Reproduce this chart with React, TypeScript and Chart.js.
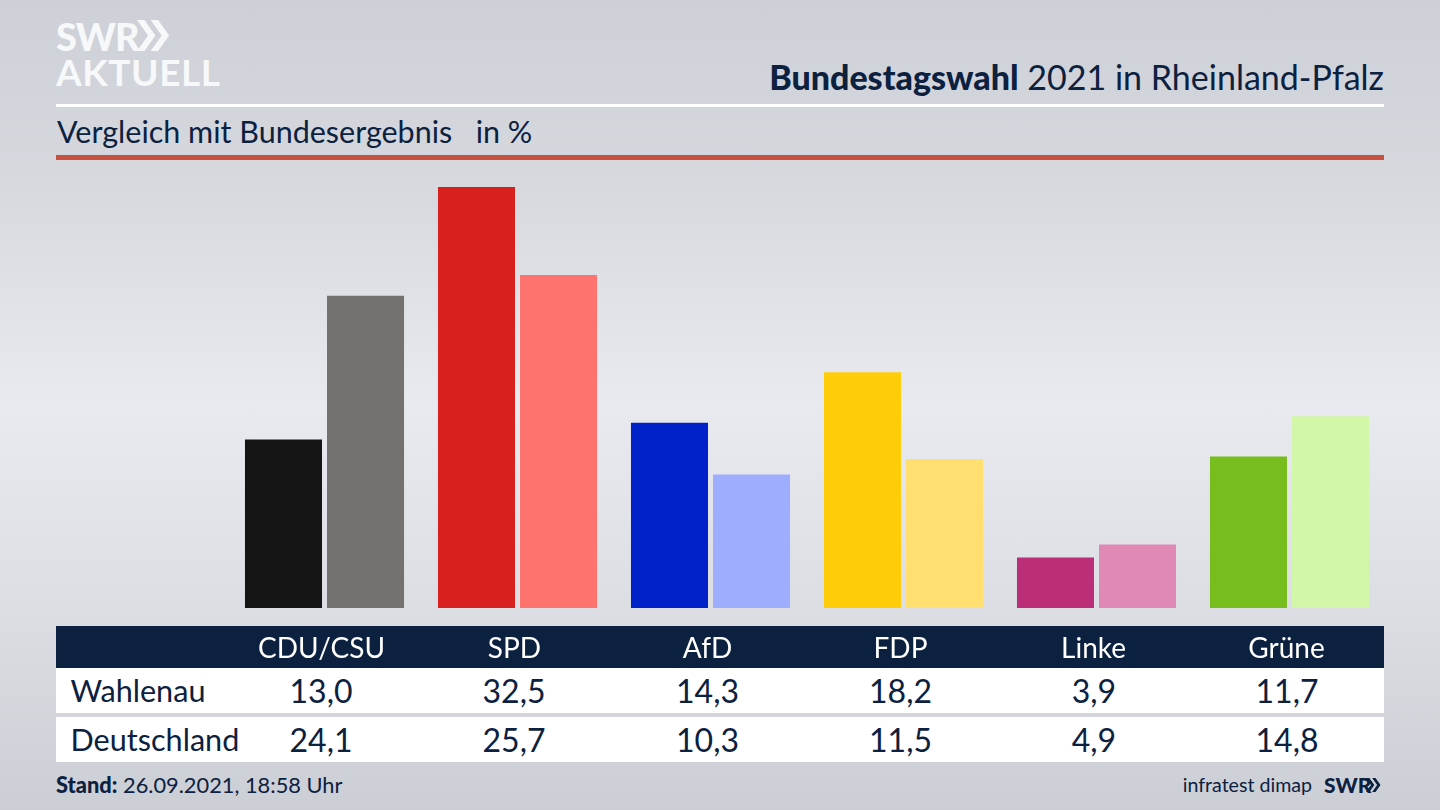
import React, { useEffect, useRef } from "react";
import { Chart, registerables } from "chart.js";

Chart.register(...registerables);

const parties = ["CDU/CSU", "SPD", "AfD", "FDP", "Linke", "Grüne"];
const wahlenau = [13.0, 32.5, 14.3, 18.2, 3.9, 11.7];
const deutschland = [24.1, 25.7, 10.3, 11.5, 4.9, 14.8];
const coloursWahlenau = ["#141414", "#d8201e", "#0022c8", "#ffcc0a", "#bc2f78", "#78bd1e"];
const coloursDeutschland = ["#74726f", "#ff736e", "#9fadff", "#ffdf70", "#e088b6", "#d2f7a8"];
const rowNames = ["Wahlenau", "Deutschland"];
const columnCentres = [321, 514, 707.5, 900.5, 1094, 1287];

const FONT = "Lato, 'Noto Sans', sans-serif";
const NAVY = "#0c2140";

const fmt = (v: number) => v.toFixed(1).replace(".", ",");

const abs = (left: number, top: number, width: number, height: number, extra: React.CSSProperties = {}): React.CSSProperties => ({
  position: "absolute", left, top, width, height, ...extra,
});

function Chevrons({ x, y, h, color }: { x: number; y: number; h: number; color: string }) {
  const w = h * 0.5;
  const t = h * 0.24;
  const pts = (o: number) => `${o},0 ${o + t},0 ${o + w + t * 0.4},${h / 2} ${o + t},${h} ${o},${h} ${o + w - t * 0.6},${h / 2}`;
  return (
    <svg style={{ position: "absolute", left: x, top: y }} width={h * 1.2} height={h}>
      <polygon points={pts(0)} fill={color} />
      <polygon points={pts(h * 0.44)} fill={color} />
    </svg>
  );
}

export default function App() {
  const ref = useRef<HTMLCanvasElement>(null);
  useEffect(() => {
    const chart = new Chart(ref.current!, {
      type: "bar",
      data: {
        labels: parties,
        datasets: [
          { label: rowNames[0], data: wahlenau, backgroundColor: coloursWahlenau },
          { label: rowNames[1], data: deutschland, backgroundColor: coloursDeutschland },
        ],
      },
      options: {
        responsive: false,
        animation: false,
        layout: { padding: { left: 228, right: 54, top: 187, bottom: 0 } },
        datasets: { bar: { categoryPercentage: 0.85, barPercentage: 0.939 } },
        plugins: { legend: { display: false }, title: { display: false }, tooltip: { enabled: false } },
        scales: {
          x: {
            grid: { display: false },
            border: { display: false },
            afterFit: (s: any) => { s.height = 202; },
            ticks: { color: "#ffffff", padding: 16, labelOffset: -3, maxRotation: 0, font: { family: FONT, size: 28 } },
          },
          y: { display: false, min: 0, max: 32.5 },
        },
      } as any,
    });
    return () => chart.destroy();
  }, []);

  const rows = [wahlenau, deutschland];
  return (
    <div style={{
      ...abs(0, 0, 1440, 810, { overflow: "hidden", fontFamily: FONT, color: NAVY }),
      background: "linear-gradient(180deg,#cdd0d7 0%,#d6d8de 22%,#e9eaef 50%,#dcdee3 75%,#cbced5 100%)",
    }}>
      <div style={abs(56, 16, 90, 40, { color: "#f7f8f9", fontWeight: 900, fontSize: 38, lineHeight: "40px", letterSpacing: -1 })}>SWR</div>
      <Chevrons x={137} y={20} h={31} color="#f7f8f9" />
      <div style={abs(56, 52, 170, 40, { color: "#f7f8f9", fontWeight: 700, fontSize: 37, lineHeight: "40px", letterSpacing: 0.6 })}>AKTUELL</div>

      <div style={abs(500, 56, 884, 42, { textAlign: "right", fontSize: 34, lineHeight: "42px", whiteSpace: "nowrap" })}>
        <b style={{ fontWeight: 900 }}>Bundestagswahl</b> 2021 in Rheinland-Pfalz
      </div>
      <div style={abs(56, 104, 1328, 3, { background: "#ffffff" })} />
      <div style={abs(57, 112, 800, 38, { fontSize: 30.5, lineHeight: "38px", whiteSpace: "pre" })}>Vergleich mit Bundesergebnis   in %</div>
      <div style={abs(56, 155, 1328, 5, { background: "#c8503f" })} />

      <div style={abs(56, 626, 1328, 42, { background: NAVY })} />
      {rows.map((vals, r) => {
        const top = r === 0 ? 668 : 717;
        return (
          <React.Fragment key={r}>
            <div style={abs(56, top, 1328, 45, { background: "#ffffff" })} />
            <div style={abs(70.5, top, 190, 45, { fontSize: 30.6, lineHeight: "45px", whiteSpace: "nowrap" })}>{rowNames[r]}</div>
            {vals.map((v, i) => (
              <div key={i} style={abs(columnCentres[i] - 60, top, 120, 45, { fontSize: 32, lineHeight: "46px", textAlign: "center" })}>{fmt(v)}</div>
            ))}
          </React.Fragment>
        );
      })}

      <div style={abs(56, 771, 500, 28, { fontSize: 21.8, lineHeight: "28px", whiteSpace: "nowrap" })}>
        <b style={{ fontWeight: 900 }}>Stand:</b> 26.09.2021, 18:58 Uhr
      </div>
      <div style={abs(1100, 771, 212, 28, { fontSize: 19.6, lineHeight: "28px", textAlign: "right", whiteSpace: "nowrap" })}>infratest dimap</div>
      <div style={abs(1324, 771, 46, 28, { fontSize: 21, lineHeight: "28px", fontWeight: 900 })}>SWR</div>
      <Chevrons x={1366} y={778} h={14} color={NAVY} />

      <canvas ref={ref} width={1440} height={810} style={{ position: "absolute", left: 0, top: 0, display: "block" }} />
    </div>
  );
}
